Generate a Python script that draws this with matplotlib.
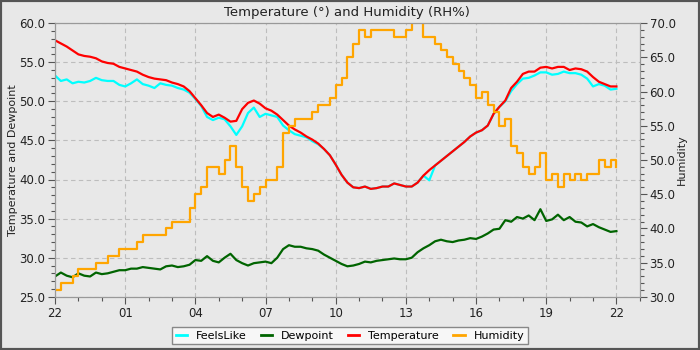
import numpy as np
import matplotlib
matplotlib.use("Agg")
import matplotlib.pyplot as plt
from matplotlib.patches import Rectangle
from matplotlib.ticker import MultipleLocator, FormatStrFormatter, FixedLocator

# readings every 15 minutes, starting 22:00
hours = np.arange(97) * 0.25

temperature = [
    57.8, 57.4, 57.0, 56.5, 56.0, 55.8, 55.7, 55.5, 55.1, 54.9, 54.8, 54.4,
    54.2, 54.0, 53.8, 53.4, 53.1, 52.9, 52.8, 52.7, 52.4, 52.2, 51.9, 51.3,
    50.4, 49.5, 48.5, 48.0, 48.3, 47.9, 47.4, 47.5, 49.0, 49.8, 50.1, 49.7,
    49.1, 48.8, 48.3, 47.6, 46.9, 46.4, 46.0, 45.5, 45.1, 44.6, 43.9, 43.1,
    41.9, 40.6, 39.6, 39.0, 38.9, 39.1, 38.8, 38.9, 39.1, 39.1, 39.5, 39.3,
    39.1, 39.1, 39.6, 40.5, 41.2, 41.8, 42.4, 43.0, 43.6, 44.2, 44.8, 45.5,
    46.0, 46.3, 46.9, 48.4, 49.3, 50.1, 51.7, 52.5, 53.5, 53.8, 53.8, 54.3,
    54.4, 54.2, 54.4, 54.4, 54.0, 54.2, 54.1, 53.8, 53.1, 52.5, 52.2, 51.9,
    51.9,
]

feels_like = [
    53.3, 52.6, 52.8, 52.3, 52.5, 52.4, 52.6, 53.0, 52.7, 52.6, 52.6, 52.1,
    51.9, 52.3, 52.8, 52.2, 52.0, 51.7, 52.3, 52.1, 52.0, 51.7, 51.5, 51.1,
    50.3, 49.4, 48.0, 47.6, 47.9, 47.7, 46.8, 45.7, 46.8, 48.5, 49.2, 48.0,
    48.4, 48.2, 48.0, 46.9, 46.3, 45.8, 45.6, 45.4, 44.9, 44.5, 43.9, 43.1,
    41.9, 40.6, 39.6, 39.0, 38.9, 39.1, 38.8, 38.9, 39.1, 39.1, 39.5, 39.3,
    39.1, 39.1, 39.6, 40.5, 39.9, 41.8, 42.4, 43.0, 43.6, 44.2, 44.8, 45.5,
    46.0, 46.3, 46.9, 48.4, 49.3, 50.0, 51.3, 52.2, 52.9, 53.0, 53.3, 53.7,
    53.7, 53.4, 53.5, 53.8, 53.6, 53.6, 53.4, 52.9, 51.9, 52.2, 52.0, 51.5,
    51.6,
]

dewpoint = [
    27.6, 28.1, 27.7, 27.5, 28.0, 27.7, 27.6, 28.1, 27.9, 28.0, 28.2, 28.4,
    28.4, 28.6, 28.6, 28.8, 28.7, 28.6, 28.5, 28.9, 29.0, 28.8, 28.9, 29.1,
    29.7, 29.6, 30.2, 29.6, 29.4, 30.0, 30.5, 29.7, 29.3, 29.0, 29.3, 29.4,
    29.5, 29.3, 30.0, 31.1, 31.6, 31.4, 31.4, 31.2, 31.1, 30.9, 30.4, 30.0,
    29.6, 29.2, 28.9, 29.0, 29.2, 29.5, 29.4, 29.6, 29.7, 29.8, 29.9, 29.8,
    29.8, 30.0, 30.7, 31.2, 31.6, 32.1, 32.3, 32.1, 32.0, 32.2, 32.3, 32.5,
    32.4, 32.7, 33.1, 33.6, 33.7, 34.8, 34.6, 35.2, 35.0, 35.4, 34.8, 36.2,
    34.7, 34.9, 35.5, 34.8, 35.2, 34.6, 34.5, 34.0, 34.3, 33.9, 33.6, 33.3,
    33.4,
]

humidity = [
    31, 32, 32, 33, 34, 34, 34, 35, 35, 36, 36, 37,
    37, 37, 38, 39, 39, 39, 39, 40, 41, 41, 41, 43,
    45, 46, 49, 49, 48, 50, 52, 49, 46, 44, 45, 46,
    47, 47, 49, 54, 55, 56, 56, 56, 57, 58, 58, 59,
    61, 62, 65, 67, 69, 68, 69, 69, 69, 69, 68, 68,
    69, 71, 71, 68, 68, 67, 66, 65, 64, 63, 62, 61,
    59, 60, 58, 57, 55, 56, 52, 51, 49, 48, 49, 51,
    47, 48, 46, 48, 47, 48, 47, 48, 48, 50, 49, 50,
    49,
]

hour_labels = ["22", "01", "04", "07", "10", "13", "16", "19", "22"]

bg = "#e8e8e8"
fig = plt.figure(figsize=(7, 3.5), dpi=100, facecolor=bg)
ax = fig.add_axes([0.0786, 0.152, 0.8354, 0.782], facecolor=bg)
ax2 = ax.twinx()

ax.plot(hours, feels_like, color="#00ffff", lw=1.6, label="FeelsLike")
ax.plot(hours, dewpoint, color="#006400", lw=1.6, label="Dewpoint")
ax.plot(hours, temperature, color="#ff0000", lw=1.6, label="Temperature")
ax2.plot(hours, humidity, color="#ffa500", lw=1.6, drawstyle="steps-post",
         label="Humidity")

ax.set_xlim(0, 25)
ax.set_ylim(25, 60)
ax2.set_ylim(30, 70)

ax.xaxis.set_major_locator(FixedLocator(np.arange(0, 25, 3)))
ax.set_xticklabels(hour_labels)
ax.xaxis.set_minor_locator(MultipleLocator(1))
ax.yaxis.set_major_locator(MultipleLocator(5))
ax.yaxis.set_minor_locator(MultipleLocator(1))
ax.yaxis.set_major_formatter(FormatStrFormatter("%.1f"))
ax2.yaxis.set_major_locator(MultipleLocator(5))
ax2.yaxis.set_minor_locator(MultipleLocator(1))
ax2.yaxis.set_major_formatter(FormatStrFormatter("%.1f"))

for a in (ax, ax2):
    a.tick_params(which="major", length=5, width=0.8, color="#555555",
                  labelsize=8.5, labelcolor="#222222", pad=2)
    a.tick_params(which="minor", length=3, width=0.8, color="#555555")
    for s in a.spines.values():
        s.set_color("#999999")

ax.grid(True, which="major", linestyle=(0, (4, 3)), color="#bdbdbd", lw=0.8)
ax.set_axisbelow(True)

ax.set_title("Temperature (\u00b0) and Humidity (RH%)", fontsize=9.5,
             color="#222222", pad=5)
ax.set_ylabel("Temperature and Dewpoint", fontsize=8, color="#222222",
              labelpad=1)
ax2.set_ylabel("Humidity", fontsize=8, color="#222222", labelpad=1)

h1, l1 = ax.get_legend_handles_labels()
h2, l2 = ax2.get_legend_handles_labels()
leg = fig.legend(h1 + h2, l1 + l2, loc="lower center",
                 bbox_to_anchor=(0.5, 0.0), ncol=4, fontsize=8,
                 frameon=True, fancybox=False, handlelength=1.0,
                 handletextpad=0.8, columnspacing=1.3,
                 borderpad=0.35)
leg.get_frame().set_facecolor("#f7f7f7")
leg.get_frame().set_edgecolor("#888888")
leg.get_frame().set_alpha(1)
for line in leg.get_lines():
    line.set_linewidth(2)

# dark frame round the whole figure
fig.patches.append(Rectangle((0, 0), 1, 1, transform=fig.transFigure,
                             fill=False, edgecolor="#555555", lw=3))

fig.savefig("out.png", dpi=100, facecolor=bg)
